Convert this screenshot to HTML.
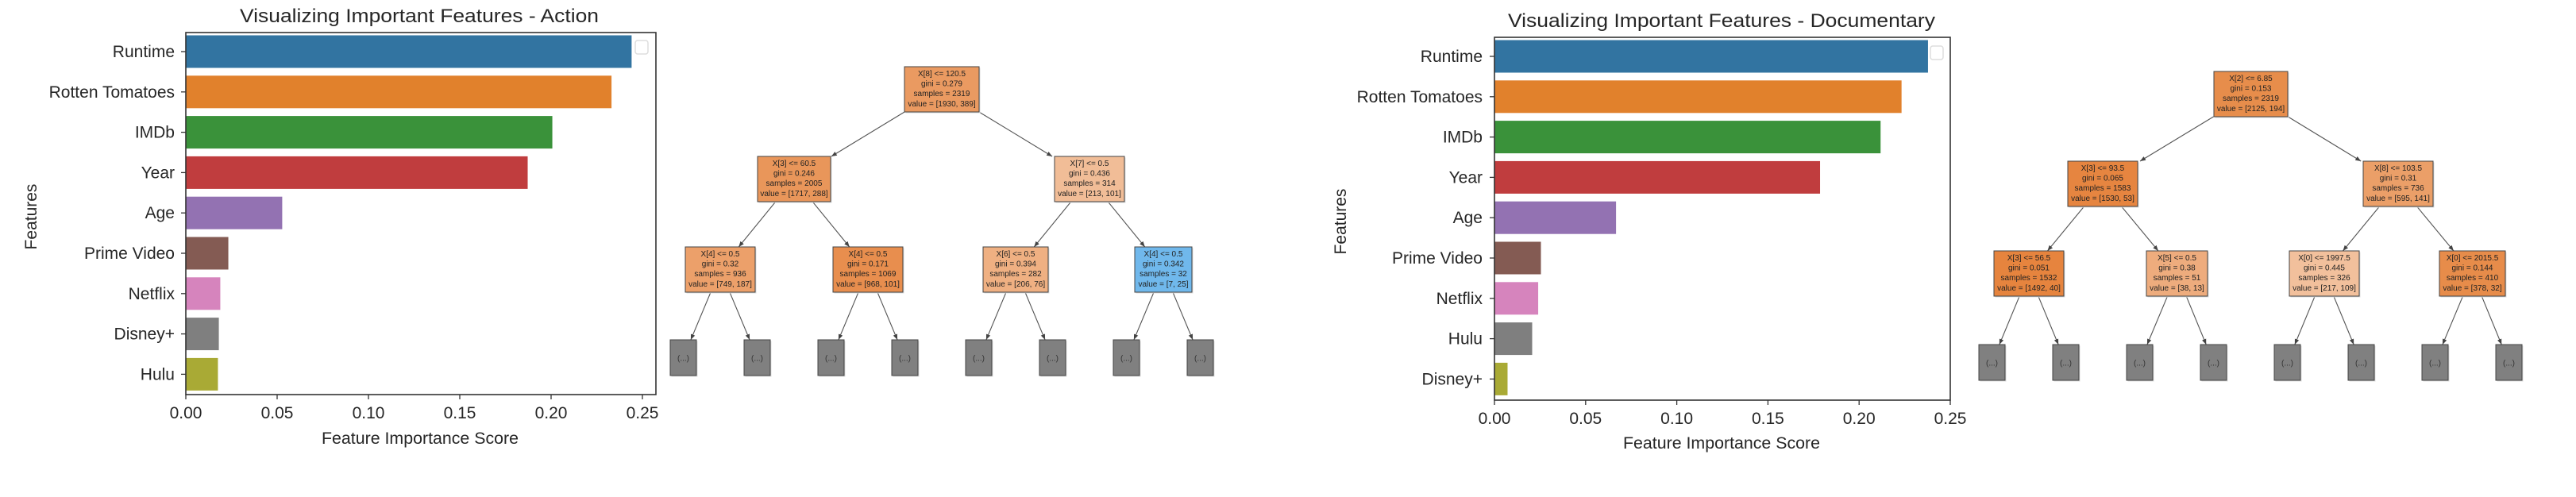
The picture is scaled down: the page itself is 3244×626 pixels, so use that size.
<!DOCTYPE html>
<html><head><meta charset="utf-8"><style>
html,body{margin:0;padding:0;background:#fff;width:3244px;height:626px;overflow:hidden}
svg text{font-family:"Liberation Sans",sans-serif;fill:#262626}
.t{font-size:10px;text-anchor:middle;fill:#222}
</style></head><body>
<svg id="s" width="3244" height="626" viewBox="0 0 3244 626" xmlns="http://www.w3.org/2000/svg">
<defs><marker id="ah" viewBox="0 0 10 10" refX="10" refY="5" markerWidth="7" markerHeight="7" orient="auto-start-reverse" markerUnits="userSpaceOnUse"><path d="M0,1 L10,5 L0,9 z" fill="#444"/></marker></defs>
<g id="edges" stroke="#555" stroke-width="1.1" fill="none"></g>
<g id="g"></g>
</svg>
<script>
const NS="http://www.w3.org/2000/svg";
const g=document.getElementById('g'), eg=document.getElementById('edges');
function el(tag,attrs,parent,txt){const e=document.createElementNS(NS,tag);for(const k in attrs)e.setAttribute(k,attrs[k]);if(txt!==undefined)e.textContent=txt;(parent||g).appendChild(e);return e;}
const cols=["#3274a1","#e1812c","#3a923a","#c03d3e","#9372b2","#845b53","#d684bd","#7f7f7f","#a9aa35"];
function chart(o){
 const {L,R,T,B,x0,s,title,tx,ty,tw,labels,vals,c0,pitch,xlx,xly,xlw,tky,ylx,yly,lab,lg}=o;
 el('text',{x:tx,y:ty,'font-size':24,'text-anchor':'middle',textLength:tw,lengthAdjust:'spacingAndGlyphs'},g,title);
 labels.forEach((l,i)=>{const cy=c0+i*pitch;const w=vals[i]*s;
  el('rect',{x:L,y:cy-21,width:w,height:42,fill:o.colors[i],stroke:'#fff','stroke-width':1},g);
  el('line',{x1:L-6,y1:cy,x2:L,y2:cy,stroke:'#333','stroke-width':1.3},g);
  el('text',{x:lab,y:cy+7,'font-size':21,'text-anchor':'end'},g,l);});
 el('rect',{x:L,y:T,width:R-L,height:B-T,fill:'none',stroke:'#333','stroke-width':1.6},g);
 el('rect',{x:lg[0],y:lg[1],width:16,height:17,rx:3,fill:'#fff',stroke:'#ddd','stroke-width':1.5},g);
 ['0.00','0.05','0.10','0.15','0.20','0.25'].forEach((t,i)=>{const x=L+i*0.05*s;
  el('line',{x1:x,y1:B,x2:x,y2:B+6,stroke:'#333','stroke-width':1.3},g);
  el('text',{x:x,y:tky,'font-size':21,'text-anchor':'middle'},g,t);});
 el('text',{x:xlx,y:xly,'font-size':21,'text-anchor':'middle',textLength:xlw,lengthAdjust:'spacingAndGlyphs'},g,'Feature Importance Score');
 el('text',{x:ylx,y:yly,'font-size':21,'text-anchor':'middle',transform:`rotate(-90 ${ylx} ${yly})`},g,'Features');
}
chart({L:234,R:826,T:41,B:497,s:2300,title:'Visualizing Important Features - Action',tx:528,ty:28,tw:452,
 labels:['Runtime','Rotten Tomatoes','IMDb','Year','Age','Prime Video','Netflix','Disney+','Hulu'],
 vals:[0.2443,0.2333,0.2009,0.1874,0.0530,0.0235,0.0191,0.0183,0.0178],colors:cols,c0:65,pitch:50.8,
 xlx:529,xly:559,xlw:248,tky:527,ylx:46,yly:273,lab:220,lg:[800,51]});
chart({L:1882,R:2456,T:47,B:504,s:2296,title:'Visualizing Important Features - Documentary',tx:2168,ty:34,tw:538,
 labels:['Runtime','Rotten Tomatoes','IMDb','Year','Age','Prime Video','Netflix','Hulu','Disney+'],
 vals:[0.2380,0.2235,0.2120,0.1788,0.0669,0.0257,0.0242,0.0209,0.0074],
 colors:["#3274a1","#e1812c","#3a923a","#c03d3e","#9372b2","#845b53","#d684bd","#7f7f7f","#a9aa35"],c0:71,pitch:50.8,
 xlx:2168,xly:565,xlw:248,tky:534,ylx:1695,yly:279,lab:1867,lg:[2431,58]});

function tree(nodes,edges){
 const boxes={};
 nodes.forEach(n=>{boxes[n.id]=n;});
 edges.forEach(([a,b])=>{const p=boxes[a],c=boxes[b];
  const pcx=(p.x1+p.x2)/2,pcy=(p.y1+p.y2)/2,ccx=(c.x1+c.x2)/2,ccy=(c.y1+c.y2)/2;
  const t1=(p.y2-pcy)/(ccy-pcy),t2=(c.y1-pcy)/(ccy-pcy);
  el('line',{x1:pcx+t1*(ccx-pcx),y1:p.y2,x2:pcx+t2*(ccx-pcx),y2:c.y1,'marker-end':'url(#ah)'},eg);});
 nodes.forEach(n=>{
  el('rect',{x:n.x1+1.5,y:n.y1+1.5,width:n.x2-n.x1,height:n.y2-n.y1,fill:'#ddd'},g);
  el('rect',{x:n.x1,y:n.y1,width:n.x2-n.x1,height:n.y2-n.y1,fill:n.c,stroke:'#444','stroke-width':1},g);
  const cx=(n.x1+n.x2)/2;
  if(n.l){n.l.forEach((s,i)=>el('text',{x:cx,y:n.y1+12+i*12.6,class:'t'},g,s));}
  else el('text',{x:cx,y:(n.y1+n.y2)/2+4,class:'t',style:'fill:#333'},g,'(...)');
 });
}
function leaves(xs,y1,y2){return xs.map((x,i)=>({id:'g'+i,x1:x,x2:x+33,y1:y1,y2:y2,c:'#808080'}));}
// Tree 1
tree([
 {id:'r',x1:1139,x2:1233,y1:84,y2:141,c:'#ea9a61',l:['X[8] <= 120.5','gini = 0.279','samples = 2319','value = [1930, 389]']},
 {id:'A',x1:954,x2:1046,y1:197,y2:254,c:'#e9965a',l:['X[3] <= 60.5','gini = 0.246','samples = 2005','value = [1717, 288]']},
 {id:'B',x1:1328,x2:1416,y1:197,y2:254,c:'#f1bd97',l:['X[7] <= 0.5','gini = 0.436','samples = 314','value = [213, 101]']},
 {id:'a',x1:863,x2:951,y1:311,y2:368,c:'#eca06a',l:['X[4] <= 0.5','gini = 0.32','samples = 936','value = [749, 187]']},
 {id:'b',x1:1049,x2:1137,y1:311,y2:368,c:'#e88e4e',l:['X[4] <= 0.5','gini = 0.171','samples = 1069','value = [968, 101]']},
 {id:'c',x1:1238,x2:1320,y1:311,y2:368,c:'#efb082',l:['X[6] <= 0.5','gini = 0.394','samples = 282','value = [206, 76]']},
 {id:'d',x1:1429,x2:1501,y1:311,y2:368,c:'#70b8ec',l:['X[4] <= 0.5','gini = 0.342','samples = 32','value = [7, 25]']},
 ...leaves([844,937,1030,1123,1216,1309,1402,1495],428,473)
],[['r','A'],['r','B'],['A','a'],['A','b'],['B','c'],['B','d'],['a','g0'],['a','g1'],['b','g2'],['b','g3'],['c','g4'],['c','g5'],['d','g6'],['d','g7']]);
// Tree 2
tree([
 {id:'r',x1:2788,x2:2881,y1:90,y2:147,c:'#e78d4b',l:['X[2] <= 6.85','gini = 0.153','samples = 2319','value = [2125, 194]']},
 {id:'A',x1:2604,x2:2692,y1:203,y2:260,c:'#e68540',l:['X[3] <= 93.5','gini = 0.065','samples = 1583','value = [1530, 53]']},
 {id:'B',x1:2976,x2:3064,y1:203,y2:260,c:'#eb9f68',l:['X[8] <= 103.5','gini = 0.31','samples = 736','value = [595, 141]']},
 {id:'a',x1:2511,x2:2599,y1:316,y2:373,c:'#e6843e',l:['X[3] <= 56.5','gini = 0.051','samples = 1532','value = [1492, 40]']},
 {id:'b',x1:2703,x2:2780,y1:316,y2:373,c:'#eeac7d',l:['X[5] <= 0.5','gini = 0.38','samples = 51','value = [38, 13]']},
 {id:'c',x1:2883,x2:2971,y1:316,y2:373,c:'#f2c09c',l:['X[0] <= 1997.5','gini = 0.445','samples = 326','value = [217, 109]']},
 {id:'d',x1:3072,x2:3155,y1:316,y2:373,c:'#e78c4a',l:['X[0] <= 2015.5','gini = 0.144','samples = 410','value = [378, 32]']},
 ...leaves([2492,2585,2678,2771,2864,2957,3050,3143],434,479)
],[['r','A'],['r','B'],['A','a'],['A','b'],['B','c'],['B','d'],['a','g0'],['a','g1'],['b','g2'],['b','g3'],['c','g4'],['c','g5'],['d','g6'],['d','g7']]);
</script>
</body></html>
